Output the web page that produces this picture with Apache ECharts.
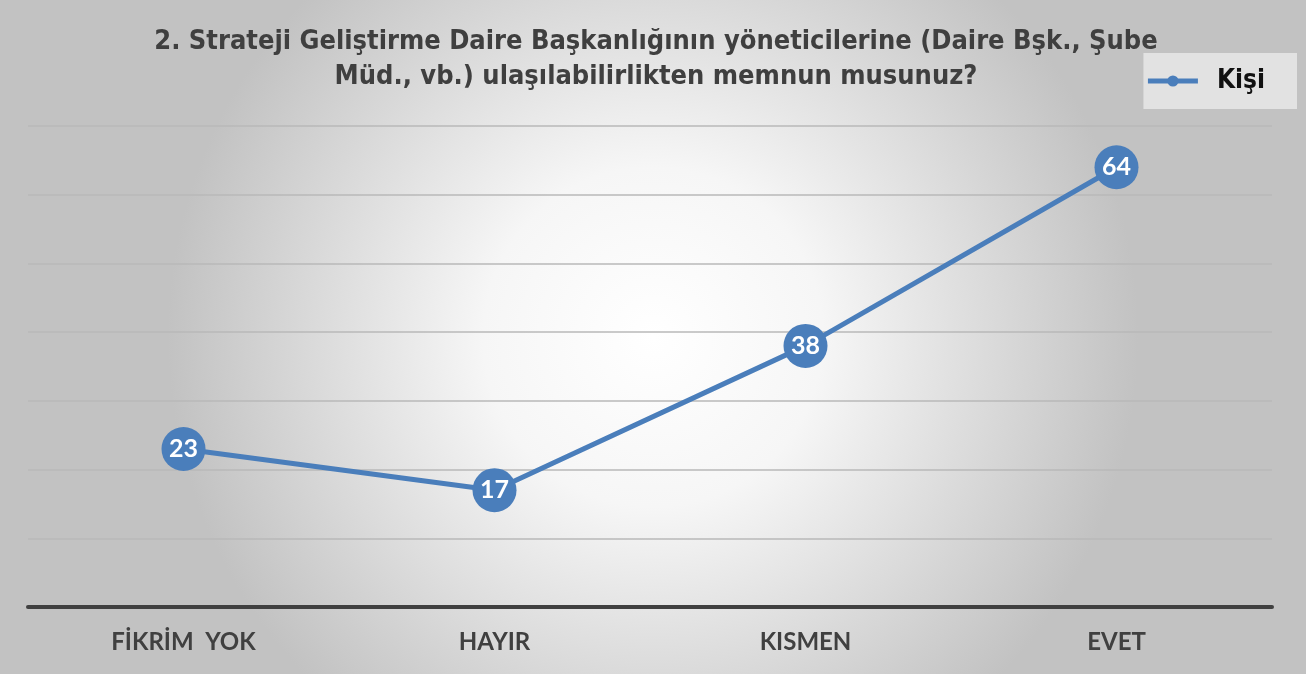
<!DOCTYPE html>
<html>
<head>
<meta charset="utf-8">
<script src="https://cdn.jsdelivr.net/npm/echarts@6/dist/echarts.min.js"></script>
<style>
  html, body { margin: 0; padding: 0; }
  #myChart { width: 1306px; height: 674px; }
</style>
</head>
<body>
<div id="myChart"></div>
<script>
// veriler
var categories = ['FİKRİM  YOK', 'HAYIR', 'KISMEN', 'EVET'];
var kisiValues = [23, 17, 38, 64];
var yTicks = [0, 10, 20, 30, 40, 50, 60, 70];
var seriesName = 'Kişi';
var chartTitle = '2. Strateji Geliştirme Daire Başkanlığının yöneticilerine (Daire Bşk., Şube\nMüd., vb.) ulaşılabilirlikten memnun musunuz?';

var blue = '#4a7ebb';

var myChart = echarts.init(document.getElementById('myChart'));
myChart.setOption({
  backgroundColor: {
    type: 'radial', x: 0.5, y: 0.5, r: 0.72,
    colorStops: [
      { offset: 0, color: '#ffffff' },
      { offset: 0.35, color: '#f6f6f6' },
      { offset: 1, color: '#c2c2c2' }
    ]
  },
  title: {
    text: chartTitle,
    left: 651,
    textAlign: 'center',
    top: 19,
    textStyle: {
      fontFamily: 'DejaVu Sans Condensed, DejaVu Sans, sans-serif',
      fontWeight: 'bold',
      fontSize: 27,
      lineHeight: 35,
      color: '#3f3f3f'
    }
  },
  legend: {
    data: [seriesName],
    right: 9,
    top: 53,
    padding: [15, 32, 15, 2],
    backgroundColor: '#e2e2e2',
    itemWidth: 50,
    itemHeight: 14,
    lineStyle: { width: 5 },
    textStyle: {
      fontFamily: 'DejaVu Sans Condensed, DejaVu Sans, sans-serif',
      fontWeight: 'bold',
      fontSize: 26,
      color: '#111111',
      padding: [0, 0, 0, 14]
    }
  },
  grid: {
    left: 28,
    right: 34,
    top: 126,
    bottom: 67
  },
  xAxis: {
    type: 'category',
    data: categories,
    boundaryGap: true,
    axisLine: { lineStyle: { color: '#404040', width: 4 } },
    axisTick: { show: false },
    axisLabel: {
      margin: 23,
      fontFamily: 'Lato, Open Sans, sans-serif',
      fontWeight: 'bold',
      fontSize: 24,
      color: '#404040'
    }
  },
  yAxis: {
    type: 'value',
    min: yTicks[0],
    max: yTicks[yTicks.length - 1],
    interval: 10,
    axisLabel: { show: false },
    axisLine: { show: false },
    axisTick: { show: false },
    splitLine: { lineStyle: { color: '#b8b8b8', width: 1.5 } }
  },
  series: [{
    name: seriesName,
    type: 'line',
    data: kisiValues,
    symbol: 'circle',
    symbolSize: 44,
    lineStyle: { color: blue, width: 5 },
    itemStyle: { color: blue },
    label: {
      show: true,
      position: 'inside',
      fontFamily: 'Lato, Open Sans, sans-serif',
      fontWeight: 'bold',
      fontSize: 25,
      color: '#ffffff'
    },
    animation: false
  }]
});
</script>
</body>
</html>
